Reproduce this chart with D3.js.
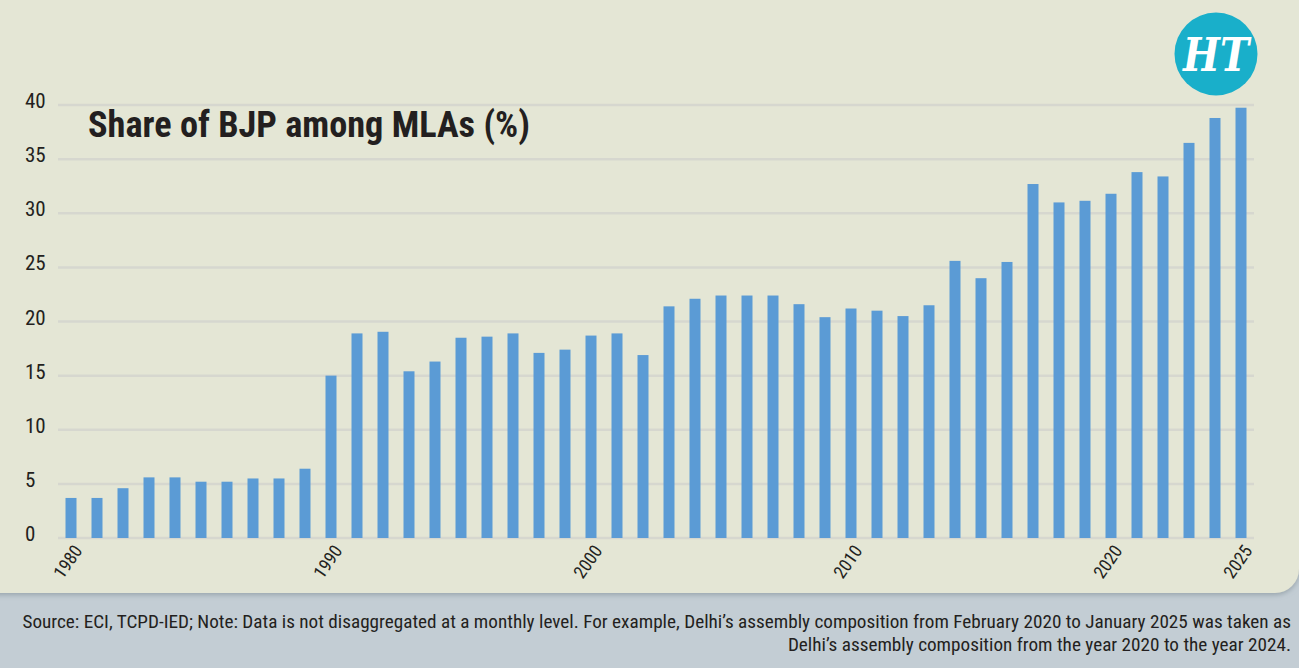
<!DOCTYPE html>
<html>
<head>
<meta charset="utf-8">
<script src="https://cdn.jsdelivr.net/npm/d3@7/dist/d3.min.js"></script>
<style>
  html, body { margin: 0; padding: 0; background: #c3cdd4; }
  svg { display: block; }
  .cond { font-family: "Liberation Sans Narrow", "Roboto Condensed", "DejaVu Sans Condensed", "Liberation Sans", sans-serif; }
</style>
</head>
<body>
<svg id="chart" width="1299" height="668"></svg>
<script>
const years = d3.range(1980, 2026);
const shares = [
  3.7, 3.7, 4.6, 5.6, 5.6, 5.2, 5.2, 5.5, 5.5, 6.4,
  15.0, 18.9, 19.05, 15.4, 16.3, 18.5, 18.6, 18.9, 17.1, 17.4,
  18.7, 18.9, 16.9, 21.4, 22.1, 22.4, 22.4, 22.4, 21.6, 20.4,
  21.2, 21.0, 20.5, 21.5, 25.6, 24.0, 25.5, 32.7, 31.0, 31.15,
  31.8, 33.8, 33.4, 36.5, 38.8, 39.75
];
const yTicks = [0, 5, 10, 15, 20, 25, 30, 35, 40];
const xTickLabels = [1980, 1990, 2000, 2010, 2020, 2025];
const titleText = "Share of BJP among MLAs (%)";
const footerLines = [
  "Source: ECI, TCPD-IED; Note: Data is not disaggregated at a monthly level. For example, Delhi\u2019s assembly composition from February 2020 to January 2025 was taken as",
  "Delhi\u2019s assembly composition from the year 2020 to the year 2024."
];

const svg = d3.select("#chart");

const defs = svg.append("defs");
const f = defs.append("filter").attr("id", "sh").attr("x", "-5%").attr("y", "-5%").attr("width", "110%").attr("height", "115%");
f.append("feDropShadow").attr("dx", 0).attr("dy", 2).attr("stdDeviation", 2.5).attr("flood-color", "#7d8a92").attr("flood-opacity", 0.6);

svg.append("rect")
  .attr("x", -40).attr("y", -40)
  .attr("width", 1339).attr("height", 633)
  .attr("rx", 24).attr("ry", 24)
  .attr("fill", "#e4e6d5")
  .attr("filter", "url(#sh)");

const plotLeft = 58, plotRight = 1254, plotTop = 105, plotBottom = 538;

const x = d3.scaleBand().domain(years).range([plotLeft, plotRight]).paddingInner(0.577).paddingOuter(0.2885);
const y = d3.scaleLinear().domain([0, 40]).range([plotBottom, plotTop]);

svg.append("g").selectAll("line").data(yTicks).join("line")
  .attr("x1", plotLeft).attr("x2", plotRight)
  .attr("y1", d => y(d)).attr("y2", d => y(d))
  .attr("stroke", "#d6d7cf").attr("stroke-width", 2.5);

svg.append("g").attr("class", "cond").selectAll("text").data(yTicks).join("text")
  .attr("x", 25).attr("y", d => y(d) + 3)
  .attr("font-size", 21).attr("fill", "#231f20")
  .text(d => d);

svg.append("g").selectAll("rect").data(years).join("rect")
  .attr("x", d => x(d))
  .attr("width", x.bandwidth())
  .attr("y", (d, i) => y(shares[i]))
  .attr("height", (d, i) => y(0) - y(shares[i]))
  .attr("fill", "#5b9bd5");

svg.append("g").attr("class", "cond").selectAll("text").data(xTickLabels).join("text")
  .attr("transform", d => `translate(${x(d) + x.bandwidth() / 2 + 7},${plotBottom + 9}) rotate(-55)`)
  .attr("text-anchor", "end")
  .attr("dy", "0.35em")
  .attr("font-size", 18).attr("fill", "#231f20")
  .text(d => d);

svg.append("text").attr("class", "cond")
  .attr("x", 88).attr("y", 137)
  .attr("font-size", 37).attr("font-weight", "bold").attr("fill", "#231f20")
  .attr("textLength", 442).attr("lengthAdjust", "spacingAndGlyphs")
  .text(titleText);

const logo = svg.append("g").attr("transform", "translate(1216,54)");
logo.append("circle").attr("r", 41.5).attr("fill", "#19afca");
logo.append("text")
  .attr("text-anchor", "middle").attr("y", 17)
  .attr("font-family", "'DejaVu Serif', 'Liberation Serif', serif")
  .attr("font-weight", "bold").attr("font-style", "italic")
  .attr("font-size", 46).attr("fill", "#ffffff")
  .attr("textLength", 66).attr("lengthAdjust", "spacingAndGlyphs")
  .text("HT");

// footer: size font so natural width fits the target span
const targets = [1271, 508];
const ys = [628, 651];
const footG = svg.append("g").attr("class", "cond");
const tmp = footG.append("text").attr("font-size", 20).text(footerLines[0]);
const nat = tmp.node().getComputedTextLength();
tmp.remove();
const fs = Math.min(20, 20 * (targets[0] - 2) / nat);
footerLines.forEach((t, i) => {
  footG.append("text")
    .attr("x", 1291).attr("y", ys[i]).attr("text-anchor", "end")
    .attr("font-size", fs).attr("fill", "#231f20")
    .text(t);
});
</script>
</body>
</html>
